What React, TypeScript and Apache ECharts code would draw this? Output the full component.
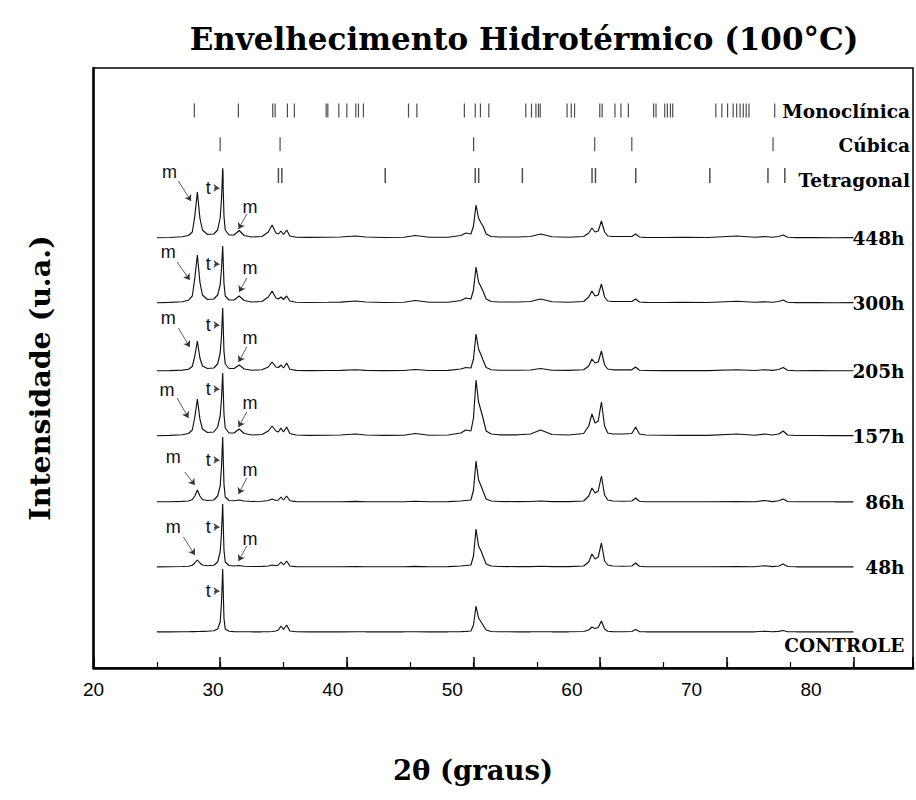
import React, { useEffect, useRef } from "react";
import * as echarts from "echarts";

// 2θ sampling points (degrees)
const TWO_THETA = [
  25, 26, 27, 27.5, 27.8, 28.0, 28.2, 28.4, 28.6, 29.0,
  29.5, 29.8, 30.0, 30.1, 30.2, 30.3, 30.4, 30.7, 31.1, 31.5,
  31.9, 32.5, 33.3, 33.8, 34.1, 34.4, 34.6, 34.8, 35.0, 35.25,
  35.5, 36.0, 37.0, 38.5, 39.5, 40.7, 41.5, 43.0, 44.5, 45.4,
  46.5, 48.0, 49.0, 49.4, 49.8, 50.0, 50.2, 50.4, 50.6, 50.75,
  51.0, 51.4, 52.0, 53.5, 54.5, 55.3, 56.2, 57.5, 58.7, 59.1,
  59.35, 59.6, 59.85, 60.1, 60.35, 60.6, 61.0, 61.8, 62.5, 62.8,
  63.1, 63.6, 65.0, 66.5, 68.5, 70.8, 72.2, 73.0, 73.6, 74.1,
  74.45, 74.8, 75.5, 77.0, 78.5, 80.0,
];

const SERIES_NAMES = ["448h", "300h", "205h", "157h", "86h", "48h", "CONTROLE"];
// vertical offsets of the stacked patterns (a.u.)
const OFFSETS = [430, 365, 297, 232, 166, 101, 36];

const I_448H = [
  0.3, 0.5, 1.2, 2.5, 6, 22, 46, 20, 8, 3.5,
  4, 8, 20, 38, 68, 22, 8, 3, 3, 7.5,
  2.5, 1, 1.5, 6, 13, 5, 4, 7, 3.5, 8,
  2, 0.8, 0.6, 0.8, 1, 2, 1, 0.5, 0.8, 2.5,
  0.8, 0.8, 2.5, 5, 4, 12, 33, 20, 15, 12,
  4, 1.5, 1, 1, 1.5, 4, 1.2, 0.8, 1.5, 5,
  10, 6, 7, 17, 6, 2, 1.5, 1.5, 1.5, 4,
  1, 0.6, 0.5, 0.6, 0.5, 2, 0.7, 1.5, 0.8, 1.5,
  3, 0.8, 0.4, 0.5, 0.3, 0.4,
];
const I_300H = [
  0.2, 0.6, 1.3, 2.8, 7, 25, 48, 21, 8, 3.5,
  4, 8, 18, 33, 57, 20, 7, 3, 3, 7,
  2.5, 1, 1.5, 6, 12, 5, 4, 6, 3.5, 7,
  2, 0.8, 0.5, 0.7, 0.9, 2, 1, 0.5, 0.8, 2.5,
  0.8, 0.8, 2.5, 5, 4, 13, 36, 21, 16, 12,
  4, 1.5, 1, 1, 1.5, 4, 1.2, 0.8, 1.5, 6,
  12, 7, 8, 19, 6, 2, 1.5, 1.5, 1.5, 4,
  1, 0.6, 0.5, 0.6, 0.5, 1.8, 0.7, 1.2, 0.8, 1.5,
  3, 0.8, 0.4, 0.5, 0.3, 0.4,
];
const I_205H = [
  0.2, 0.4, 0.9, 1.8, 4.5, 15, 30, 13, 5, 2.5,
  3, 7, 18, 34, 63, 20, 7, 2.5, 2.5, 6,
  2, 0.8, 1.2, 4, 9, 4, 3.5, 6, 3, 8,
  1.8, 0.6, 0.4, 0.5, 0.6, 1.2, 0.6, 0.4, 0.5, 1.5,
  0.5, 0.6, 2, 3.5, 3, 12, 37, 22, 16, 11,
  3.5, 1.2, 0.8, 0.8, 1, 2.5, 0.8, 0.6, 1.2, 5,
  12, 8, 9, 20, 6, 2, 1.2, 1.2, 1.2, 4,
  0.8, 0.5, 0.4, 0.5, 0.4, 1.2, 0.5, 1.3, 0.6, 1.5,
  3.5, 0.7, 0.3, 0.4, 0.3, 0.3,
];
const I_157H = [
  0.3, 0.6, 1.3, 2.5, 6, 19, 37, 17, 7, 3.5,
  4, 9, 20, 36, 63, 22, 8, 3, 3, 7,
  2.5, 1, 1.5, 5, 10, 5, 4, 8, 4, 9,
  2.5, 1, 0.6, 0.8, 1, 2, 1, 0.6, 0.8, 2.5,
  0.8, 1, 3, 6, 5, 18, 56, 34, 25, 18,
  5, 2, 1.2, 1.2, 2, 6, 1.5, 1, 2.5, 10,
  22, 13, 15, 34, 10, 3, 2, 2, 2.5, 9,
  2, 1, 0.8, 0.6, 0.6, 2, 0.8, 2, 1, 2,
  5, 1, 0.5, 0.5, 0.4, 0.4,
];
const I_86H = [
  0.2, 0.3, 0.6, 1, 2.5, 6, 12, 6, 2.5, 1.5,
  2, 6, 16, 34, 65, 18, 5, 1.5, 1.2, 2,
  1, 0.5, 0.7, 1.5, 3, 1.5, 2, 5, 2, 6,
  1.2, 0.4, 0.3, 0.3, 0.3, 0.6, 0.3, 0.3, 0.3, 0.8,
  0.3, 0.4, 1, 1.5, 2, 12, 41, 22, 16, 11,
  3, 1, 0.5, 0.4, 0.5, 1, 0.4, 0.4, 1, 6,
  14, 9, 11, 26, 7, 2, 1, 0.8, 1, 4,
  0.7, 0.3, 0.3, 0.3, 0.3, 0.5, 0.3, 1.5, 0.4, 1.2,
  3, 0.5, 0.2, 0.3, 0.2, 0.2,
];
const I_48H = [
  0.2, 0.3, 0.5, 0.8, 1.8, 4, 7, 4, 2, 1.2,
  1.8, 5, 15, 33, 63, 17, 5, 1.5, 1, 1.5,
  0.8, 0.5, 0.6, 1, 2, 1.2, 2, 5, 2, 6,
  1, 0.4, 0.3, 0.3, 0.3, 0.5, 0.3, 0.3, 0.3, 0.6,
  0.3, 0.4, 1, 1.5, 2, 11, 38, 21, 16, 11,
  3, 1, 0.5, 0.4, 0.4, 0.8, 0.4, 0.4, 1, 5,
  13, 8, 10, 24, 6, 2, 1, 0.8, 1, 4,
  0.7, 0.3, 0.3, 0.3, 0.3, 0.4, 0.3, 1.3, 0.4, 1,
  3, 0.5, 0.2, 0.3, 0.2, 0.2,
];
const I_CONTROLE = [
  0.2, 0.2, 0.3, 0.3, 0.4, 0.4, 0.5, 0.5, 0.6, 0.7,
  1.2, 3, 10, 28, 63, 14, 3, 0.8, 0.4, 0.3,
  0.3, 0.2, 0.2, 0.3, 0.5, 1, 2, 6, 2.5, 7,
  1, 0.3, 0.2, 0.2, 0.2, 0.3, 0.2, 0.2, 0.2, 0.3,
  0.2, 0.2, 0.4, 0.6, 1, 7, 26, 14, 10, 7,
  2, 0.5, 0.3, 0.2, 0.2, 0.3, 0.2, 0.2, 0.5, 2,
  5, 3.5, 4.5, 11, 3, 0.8, 0.4, 0.3, 0.5, 2.5,
  0.4, 0.2, 0.2, 0.2, 0.2, 0.2, 0.2, 0.8, 0.2, 0.6,
  1.5, 0.3, 0.2, 0.2, 0.2, 0.2,
];
const INTENSITIES = [I_448H, I_300H, I_205H, I_157H, I_86H, I_48H, I_CONTROLE];

// reference reflection positions (2θ)
const MONOCLINICA = [
  27.96, 31.44, 34.15, 34.34, 35.31, 35.86, 38.37, 38.5, 39.37, 40.0,
  40.71, 40.92, 41.31, 44.87, 45.53, 49.28, 50.14, 50.55, 51.21, 54.13,
  54.58, 54.93, 55.13, 55.27, 57.39, 57.72, 57.98, 59.97, 60.16, 61.17,
  61.64, 62.23, 64.22, 64.41, 65.1, 65.31, 65.55, 65.73, 69.13, 69.61,
  70.06, 70.5, 70.78, 71.05, 71.3, 71.53, 71.75, 73.78,
];
const CUBICA = [30.0, 34.73, 50.01, 59.57, 62.5, 73.65];
const TETRAGONAL = [30.2, 34.6, 34.87, 43.03, 50.14, 50.41, 53.86, 59.36, 59.63, 62.81, 68.66, 73.25, 74.58];
const PHASE_LABELS = ["Monoclínica", "Cúbica", "Tetragonal"];

const X_TICK_LABELS = [20, 30, 40, 50, 60, 70, 80];

// annotations ("m" / "t" markers), positions in 2θ and height above each pattern's baseline
const M1_LABEL = [[26.0, 66], [25.9, 51], [25.9, 53], [25.8, 46], [26.3, 45], [26.3, 40]];
const M1_ARROW = [
  [26.7, 57, 27.7, 37], [26.6, 41, 27.6, 23], [26.7, 43, 27.6, 24],
  [26.6, 38, 27.5, 18], [27.2, 30, 28.0, 17], [27.1, 30, 28.0, 12],
];
const T_LABEL_Y = [50, 39, 46, 47, 42, 40, 41];
const T_LABEL_X = 29.05;
const T_ARROW_X = [29.5, 29.95];
const M2_LABEL = [[32.35, 31], [32.35, 35], [32.35, 33], [32.35, 33], [32.35, 32], [32.35, 28]];
const M2_ARROW = [
  [32.1, 24, 31.45, 9], [32.1, 25, 31.5, 11], [32.1, 24, 31.45, 9],
  [32.1, 24, 31.45, 9], [32.1, 24, 31.45, 8], [32.1, 21, 31.45, 6],
];

const X_MIN = 20;
const X_MAX = 84.7;
const LABEL_AXIS_MAX = 88.52;
const Y_MAX = 600;
const ROW_Y = [557.5, 523.8, 492.5];

const SERIF = "DejaVu Serif";
const SANS = "Liberation Sans";

function buildOption() {
  const annText = { show: true, position: "inside", fontFamily: SANS, fontSize: 18, color: "#111" };
  const nameLabel = {
    show: true,
    fontFamily: SERIF,
    fontWeight: "bold",
    fontSize: 18.5,
    color: "#000",
    align: "right",
    verticalAlign: "middle",
  };

  const lineSeries = SERIES_NAMES.map((name, i) => {
    const off = OFFSETS[i];
    const mpData: any[] = [];
    const mlData: any[] = [];
    if (i < 6) {
      mpData.push({ coord: [M1_LABEL[i][0], off + M1_LABEL[i][1]], label: { ...annText, formatter: "m" } });
      mpData.push({ coord: [M2_LABEL[i][0], off + M2_LABEL[i][1]], label: { ...annText, formatter: "m" } });
      const a = M1_ARROW[i];
      mlData.push([{ coord: [a[0], off + a[1]] }, { coord: [a[2], off + a[3]] }]);
      const b = M2_ARROW[i];
      mlData.push([{ coord: [b[0], off + b[1]] }, { coord: [b[2], off + b[3]] }]);
    }
    mpData.push({ coord: [T_LABEL_X, off + T_LABEL_Y[i]], label: { ...annText, formatter: "t" } });
    mlData.push([
      { coord: [T_ARROW_X[0], off + T_LABEL_Y[i]], lineStyle: { type: [2, 2], color: "#444", width: 0.9 } },
      { coord: [T_ARROW_X[1], off + T_LABEL_Y[i]] },
    ]);
    const isControl = name === "CONTROLE";
    mpData.push({
      coord: [80, off],
      label: { ...nameLabel, formatter: name, position: isControl ? [51.5, 14] : [51.5, 0.5] },
    });
    return {
      type: "line",
      name,
      xAxisIndex: 0,
      yAxisIndex: 0,
      data: TWO_THETA.map((x, k) => [x, INTENSITIES[i][k] + off]),
      symbol: "none",
      showSymbol: false,
      silent: true,
      lineStyle: { color: "#111", width: 1.15 },
      markPoint: {
        symbol: "circle",
        symbolSize: 1,
        silent: true,
        itemStyle: { color: "rgba(0,0,0,0)" },
        data: mpData,
      },
      markLine: {
        silent: true,
        symbol: ["none", "arrow"],
        symbolSize: 6,
        label: { show: false },
        lineStyle: { color: "#333", width: 0.8, type: "solid" },
        data: mlData,
      },
    };
  });

  const phaseSeries = [MONOCLINICA, CUBICA, TETRAGONAL].map((arr, j) => ({
    type: "scatter",
    name: PHASE_LABELS[j],
    xAxisIndex: 0,
    yAxisIndex: 0,
    silent: true,
    symbol: "rect",
    symbolSize: j === 2 ? [1.5, 15] : [1.2, 14],
    itemStyle: { color: "#222" },
    data: arr.map((x) => [x, ROW_Y[j]]),
  }));

  const labelFormatter = (v: number) => {
    const r = Math.round(v);
    if (Math.abs(v - r) < 1e-6 && X_TICK_LABELS.includes(r)) return String(r);
    return "";
  };

  const centered = { textAlign: "center", textVerticalAlign: "middle", align: "center", verticalAlign: "middle" };

  return {
    animation: false,
    backgroundColor: "#fff",
    grid: {
      left: 93.5,
      right: 3,
      top: 68,
      bottom: 132,
      show: true,
      borderColor: "#000",
      borderWidth: 1.5,
      backgroundColor: "transparent",
    },
    xAxis: [
      {
        type: "value",
        position: "bottom",
        min: X_MIN,
        max: X_MAX,
        interval: 10,
        axisLine: { show: true, onZero: false, lineStyle: { color: "#000", width: 2.5 } },
        axisTick: { show: true, inside: true, length: 11, lineStyle: { color: "#000", width: 1.5 } },
        axisLabel: { show: false },
        splitLine: { show: false },
      },
      {
        type: "value",
        position: "bottom",
        min: X_MIN,
        max: X_MAX,
        interval: 5,
        axisLine: { show: false },
        axisTick: { show: true, inside: true, length: 6, lineStyle: { color: "#000", width: 1.2 } },
        axisLabel: { show: false },
        splitLine: { show: false },
      },
      {
        type: "value",
        position: "bottom",
        min: X_MIN,
        max: LABEL_AXIS_MAX,
        interval: 10,
        axisLine: { show: false },
        axisTick: { show: false },
        axisLabel: {
          show: true,
          margin: 12,
          fontFamily: SANS,
          fontSize: 19,
          color: "#000",
          formatter: labelFormatter,
        },
        splitLine: { show: false },
      },
    ],
    yAxis: {
      type: "value",
      min: 0,
      max: Y_MAX,
      axisLine: { show: true, onZero: false, lineStyle: { color: "#000", width: 2.5 } },
      axisTick: { show: false },
      axisLabel: { show: false },
      splitLine: { show: false },
    },
    series: [...lineSeries, ...phaseSeries],
    graphic: [
      {
        type: "text",
        x: 524,
        y: 39,
        style: {
          text: "Envelhecimento Hidrotérmico (100°C)",
          fontFamily: SERIF,
          fontWeight: "bold",
          fontSize: 31,
          fill: "#000",
          ...centered,
        },
      },
      {
        type: "text",
        x: 40,
        y: 378,
        rotation: Math.PI / 2,
        style: {
          text: "Intensidade (u.a.)",
          fontFamily: SERIF,
          fontWeight: "bold",
          fontSize: 28.5,
          fill: "#000",
          ...centered,
        },
      },
      {
        type: "text",
        x: 473,
        y: 770,
        style: {
          text: "2θ (graus)",
          fontFamily: SERIF,
          fontWeight: "bold",
          fontSize: 27.5,
          fill: "#000",
          ...centered,
        },
      },
      ...PHASE_LABELS.map((t, j) => ({
        type: "text",
        x: 910,
        y: [111.5, 145, 180][j],
        style: {
          text: t,
          fontFamily: SERIF,
          fontWeight: "bold",
          fontSize: 18.5,
          fill: "#000",
          textAlign: "right",
          textVerticalAlign: "middle",
          align: "right",
          verticalAlign: "middle",
        },
      })),
    ],
  };
}

export default function App() {
  const ref = useRef<HTMLDivElement>(null);
  useEffect(() => {
    document.body.style.margin = "0";
    if (!ref.current) return;
    const chart = echarts.init(ref.current, null, { renderer: "svg" });
    chart.setOption(buildOption() as any);
    return () => chart.dispose();
  }, []);
  return <div ref={ref} style={{ width: 916, height: 800, background: "#fff" }} />;
}
